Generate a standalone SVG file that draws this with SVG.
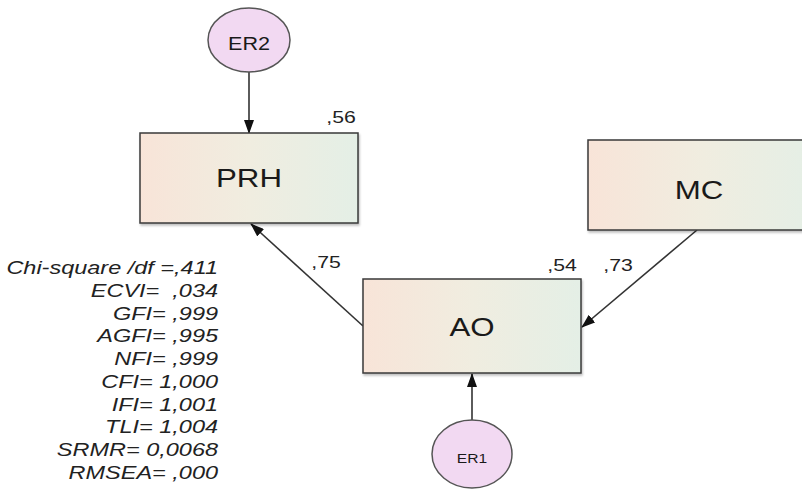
<svg xmlns="http://www.w3.org/2000/svg" width="802" height="491" viewBox="0 0 802 491">
<defs>
<linearGradient id="boxg" x1="0" y1="0" x2="1" y2="0">
<stop offset="0" stop-color="#f8e4d8"/>
<stop offset="0.5" stop-color="#f0ede0"/>
<stop offset="1" stop-color="#e4efe6"/>
</linearGradient>
<marker id="arr" viewBox="0 0 14 10" refX="13" refY="5" markerWidth="14" markerHeight="10" markerUnits="userSpaceOnUse" orient="auto">
<path d="M0,0 L14,5 L0,10 Z" fill="#111"/>
</marker>
<filter id="sh" x="-5%" y="-5%" width="110%" height="115%">
<feDropShadow dx="1" dy="2" stdDeviation="1.2" flood-color="#000" flood-opacity="0.25"/>
</filter>
</defs>
<style>
.box{fill:url(#boxg);stroke:#3a3a3a;stroke-width:1.5;filter:url(#sh)}
.err{fill:#f2d9f2;stroke:#555;stroke-width:1.5}
.lbl{font-family:"Liberation Sans",Arial,sans-serif;fill:#1a1a1a;text-anchor:middle}
.num{font-family:"Liberation Sans",Arial,sans-serif;fill:#222;font-size:17px;text-anchor:middle}
.fit{font-family:"Liberation Sans",Arial,sans-serif;fill:#222;font-size:18.5px;font-style:italic;text-anchor:end}
.con{stroke:#333;stroke-width:1.6;fill:none;marker-end:url(#arr)}
</style>
<g id="connectors">
<line class="con" x1="249" y1="72" x2="249" y2="133"/>
<line class="con" x1="472" y1="420" x2="472" y2="374"/>
<line class="con" x1="363" y1="326" x2="251" y2="224"/>
<line class="con" x1="697" y1="230" x2="582" y2="327"/>
</g>
<g id="ER2">
<ellipse class="err" cx="249" cy="40" rx="41" ry="32"/>
<text class="lbl" transform="translate(249,50) scale(1.2,1)" font-size="18" fill="#333">ER2</text>
</g>
<g id="PRH">
<rect class="box" x="140" y="133" width="218" height="90"/>
<text class="lbl" transform="translate(249,187) scale(1.25,1)" font-size="25">PRH</text>
<text class="num" transform="translate(341,123) scale(1.25,1)">,56</text>
</g>
<g id="MC">
<rect class="box" x="588" y="140" width="230" height="90"/>
<text class="lbl" transform="translate(699,199) scale(1.25,1)" font-size="25">MC</text>
</g>
<g id="AO">
<rect class="box" x="363" y="279" width="218" height="94"/>
<text class="lbl" transform="translate(472,336) scale(1.25,1)" font-size="25">AO</text>
<text class="num" transform="translate(562,271) scale(1.25,1)">,54</text>
</g>
<g id="ER1">
<ellipse class="err" cx="472" cy="454" rx="40" ry="34"/>
<text class="lbl" transform="translate(472,463) scale(1.2,1)" font-size="13" fill="#333">ER1</text>
</g>
<g id="labels">
<text class="num" transform="translate(326,268) scale(1.25,1)">,75</text>
<text class="num" transform="translate(618,271) scale(1.25,1)">,73</text>
</g>
<g id="fit" transform="translate(218,0) scale(1.27,1)">
<text class="fit" x="0" y="274">Chi-square /df =,411</text>
<text class="fit" x="0" y="297">ECVI=&#160; ,034</text>
<text class="fit" x="0" y="320">GFI= ,999</text>
<text class="fit" x="0" y="342">AGFI= ,995</text>
<text class="fit" x="0" y="365">NFI= ,999</text>
<text class="fit" x="0" y="388">CFI= 1,000</text>
<text class="fit" x="0" y="411">IFI= 1,001</text>
<text class="fit" x="0" y="433">TLI= 1,004</text>
<text class="fit" x="0" y="456">SRMR= 0,0068</text>
<text class="fit" x="0" y="479">RMSEA= ,000</text>
</g>
</svg>
